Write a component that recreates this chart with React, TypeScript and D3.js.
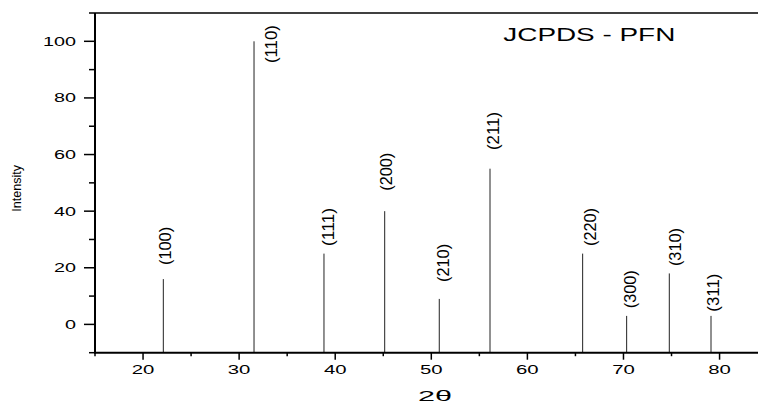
import React from "react";
import * as d3 from "d3";

const planes = ["(100)", "(110)", "(111)", "(200)", "(210)", "(211)", "(220)", "(300)", "(310)", "(311)"];
const twoTheta = [22.11, 31.55, 38.83, 45.15, 50.83, 56.11, 65.75, 70.33, 74.77, 79.11];
const intensity = [16, 100, 25, 40, 9, 55, 25, 3, 18, 3];
// label anchor in data coordinates (centre 2θ, bottom intensity)
const labelTwoTheta = [22.46, 33.5, 39.46, 45.5, 51.4, 56.6, 66.7, 70.85, 75.6, 79.5];
const labelIntensity = [21, 92.3, 27.7, 47.2, 15.0, 61.6, 27.7, 5.7, 20.6, 4.5];
const xMajor = [20, 30, 40, 50, 60, 70, 80];
const xMinor = [15, 25, 35, 45, 55, 65, 75];
const yMajor = [0, 20, 40, 60, 80, 100];
const yMinor = [-10, 10, 30, 50, 70, 90, 110];
const title = "JCPDS - PFN";
const xTitle = "2θ";
const yTitle = "Intensity";

const W = 758;
const H = 402;
const L = 95;
const R = 758;
const T = 13;
const B = 352.7;
const font = "'Liberation Sans', Arial, sans-serif";

export default function App() {
  const x = d3.scaleLinear().domain([15, 84]).range([L, R]);
  const y = d3.scaleLinear().domain([-10, 110]).range([B, T]);
  const fsLab = 16;
  return (
    <svg width={W} height={H} style={{ position: "absolute", left: 0, top: 0, background: "#fff" }}>
      <rect x={0} y={0} width={W} height={H} fill="#fff" />
      {/* peaks */}
      {twoTheta.map((t, i) => (
        <line key={"p" + i} x1={x(t)} x2={x(t)} y1={y(-10)} y2={y(intensity[i])} stroke="#222" strokeWidth={1} />
      ))}
      {/* peak labels */}
      {planes.map((p, i) => {
        const cx = x(labelTwoTheta[i]) + 0.26 * fsLab;
        const by = y(labelIntensity[i]);
        return (
          <text key={"l" + i} transform={`translate(${cx},${by}) rotate(-90)`} fontFamily={font} fontSize={fsLab}
            textLength={38} lengthAdjust="spacingAndGlyphs" fill="#000">{p}</text>
        );
      })}
      {/* axes */}
      <line x1={L} x2={R} y1={B} y2={B} stroke="#000" strokeWidth={2} />
      <line x1={L} x2={R} y1={T} y2={T} stroke="#000" strokeWidth={1.5} />
      <line x1={L} x2={L} y1={T} y2={B + 1} stroke="#000" strokeWidth={2} />
      {xMajor.map((v) => (
        <g key={"xm" + v}>
          <line x1={x(v)} x2={x(v)} y1={B} y2={B + 7} stroke="#000" strokeWidth={1.5} />
          <text x={x(v)} y={374} textAnchor="middle" fontFamily={font} fontSize={12.5}
            textLength={11.3 * String(v).length} lengthAdjust="spacingAndGlyphs">{v}</text>
        </g>
      ))}
      {xMinor.map((v) => (
        <line key={"xn" + v} x1={x(v)} x2={x(v)} y1={B} y2={B + 3.5} stroke="#000" strokeWidth={1.5} />
      ))}
      {yMajor.map((v) => (
        <g key={"ym" + v}>
          <line x1={L - 11} x2={L} y1={y(v)} y2={y(v)} stroke="#000" strokeWidth={1.5} />
          <text x={76} y={y(v) + 4.5} textAnchor="end" fontFamily={font} fontSize={12.5}
            textLength={11 * String(v).length} lengthAdjust="spacingAndGlyphs">{v}</text>
        </g>
      ))}
      {yMinor.map((v) => (
        <line key={"yn" + v} x1={L - 6} x2={L} y1={y(v)} y2={y(v)} stroke="#000" strokeWidth={1.5} />
      ))}
      <text x={435} y={400.5} textAnchor="middle" fontFamily={font} fontSize={14}
        textLength={34} lengthAdjust="spacingAndGlyphs">{xTitle}</text>
      <text transform={`translate(20.5,188.3) rotate(-90)`} textAnchor="middle" fontFamily={font} fontSize={12}
        textLength={46.7} lengthAdjust="spacingAndGlyphs">{yTitle}</text>
      <text x={503.3} y={41} fontFamily={font} fontSize={17.5}
        textLength={172} lengthAdjust="spacingAndGlyphs">{title}</text>
    </svg>
  );
}
